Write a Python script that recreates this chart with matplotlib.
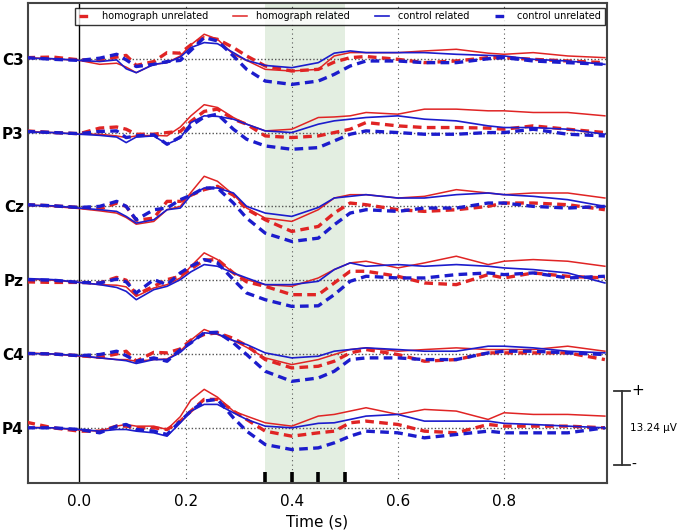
import matplotlib
matplotlib.use("Agg")
import matplotlib.pyplot as plt
import numpy as np

# ---------------- data (µV) ----------------
times = [-0.1, -0.05, 0.0, 0.038, 0.07, 0.088, 0.107, 0.14, 0.165, 0.19, 0.21,
         0.235, 0.26, 0.29, 0.315, 0.35, 0.4, 0.45, 0.48, 0.51, 0.54, 0.6, 0.65,
         0.71, 0.77, 0.8, 0.855, 0.92, 0.99]

channels = ["C3", "P3", "Cz", "Pz", "C4", "P4"]
series_names = ["homograph unrelated", "homograph related", "control related", "control unrelated"]

# homograph unrelated (red dashed)
hu_C3 = [0.2, 0.3, -0.2, -0.3, 0.3, 0.6, -1.2, -0.5, 1.1, 1.0, 2.5, 3.8, 3.5, 2.0, 0.5, -1.3, -2.2, -1.9, -0.6, 0.2, 0.4, -0.1, -0.7, -0.4, 0.2, 0.2, -0.1, -0.4, -0.7]
hu_P3 = [0.3, 0.0, -0.2, 0.8, 1.0, 0.6, -0.3, -0.3, 0.0, 0.2, 2.0, 3.8, 4.2, 2.4, 1.5, -0.6, -0.9, -0.6, 0.0, 0.6, 1.8, 1.2, 0.9, 0.9, 0.8, 0.6, 1.2, 0.6, 0.0]
hu_Cz = [0.3, 0.1, -0.2, -0.5, 0.6, 0.0, -2.5, -2.1, 0.9, 0.9, 2.0, 3.0, 3.6, 2.0, -0.5, -2.4, -4.5, -3.6, -1.2, 0.6, 0.3, -0.6, -0.9, -0.6, 0.0, 0.6, 0.6, 0.3, -0.6]
hu_Pz = [-0.3, -0.4, -0.4, -0.5, 0.5, 0.0, -2.6, -1.1, 0.1, 0.7, 2.0, 3.6, 3.7, 1.3, -0.3, -1.1, -2.6, -2.6, -0.5, 1.6, 1.6, 0.7, -0.5, -0.8, 1.0, 0.4, 1.3, 0.7, 0.4]
hu_C4 = [0.1, 0.0, -0.3, -0.6, 0.0, 0.5, -1.3, 0.3, 0.2, 0.9, 2.5, 3.5, 3.8, 2.8, 1.5, -1.0, -2.5, -2.2, -1.3, 0.2, 0.8, -0.1, -1.3, -1.0, 0.2, 0.2, 0.2, 0.2, -1.0]
hu_P4 = [1.0, 0.0, -0.6, -0.6, 0.3, 0.3, 0.0, 0.0, -0.3, 1.2, 3.0, 5.1, 5.1, 3.0, 1.5, -0.6, -1.5, -0.9, -0.6, 0.9, 1.2, 0.6, -0.6, -0.9, 0.6, 0.3, 0.3, 0.3, 0.0]

# homograph related (red solid)
hr_C3 = [0.2, 0.0, -0.3, -1.0, -0.8, -1.5, -2.5, -1.0, -0.7, 0.5, 2.5, 4.4, 3.5, 0.8, -0.3, -1.9, -2.2, -1.9, 0.5, 1.1, 1.1, 1.1, 1.4, 1.7, 1.0, 0.8, 1.1, 0.5, 0.2]
hr_P3 = [0.2, 0.0, -0.3, -0.3, -0.6, -0.9, -0.6, -0.5, -0.6, 1.0, 3.0, 5.0, 4.5, 2.7, 1.5, 0.3, 0.6, 2.7, 2.8, 3.0, 3.6, 3.3, 4.2, 4.2, 3.9, 3.9, 3.6, 3.6, 3.0]
hr_Cz = [0.3, 0.0, -0.4, -0.8, -1.2, -2.0, -3.2, -2.7, -0.6, 0.0, 2.5, 5.4, 4.5, 2.1, -0.3, -2.1, -2.7, -0.6, 1.5, 2.1, 2.1, 1.5, 1.8, 3.0, 2.4, 2.1, 2.4, 2.4, 1.5]
hr_Pz = [0.2, 0.0, -0.4, -0.8, -0.9, -1.2, -2.9, -1.4, -0.8, 0.4, 2.5, 4.9, 3.7, 1.3, 0.1, -0.8, -1.1, 0.4, 1.9, 3.1, 3.4, 2.2, 3.1, 4.3, 2.8, 3.4, 3.7, 3.4, 2.5]
hr_C4 = [0.2, 0.0, -0.4, -0.7, -1.0, -1.0, -1.3, -1.0, -0.9, 0.5, 2.5, 4.4, 3.5, 2.4, 1.2, -0.7, -1.9, -1.0, -0.1, 0.8, 1.1, 0.5, 0.8, 1.1, 0.8, 0.8, 0.8, 1.4, 0.5]
hr_P4 = [0.1, 0.0, -0.4, -0.6, 0.3, 0.6, 0.3, 0.3, -0.3, 2.0, 5.0, 6.9, 5.5, 3.0, 2.1, 0.9, 0.3, 2.1, 2.4, 3.0, 3.6, 2.4, 3.3, 3.0, 1.5, 2.7, 2.4, 2.4, 2.1]

# control related (blue solid)
cr_C3 = [0.1, 0.0, -0.3, -0.5, -0.2, -1.8, -2.5, -1.0, -0.7, 0.3, 2.0, 2.9, 2.7, 1.1, -0.3, -1.2, -1.6, -0.7, 1.0, 1.4, 1.1, 1.1, 1.1, 0.8, 0.6, 0.5, -0.1, -0.4, -1.0]
cr_P3 = [0.1, 0.0, -0.3, -0.5, -0.8, -1.8, -0.8, -0.6, -2.1, -1.0, 1.8, 3.0, 2.9, 2.4, 1.5, 0.3, 0.0, 1.5, 2.1, 2.4, 2.7, 3.0, 2.4, 2.1, 1.2, 0.9, 0.9, 0.6, -0.3]
cr_Cz = [0.2, 0.1, -0.3, -0.6, -0.9, -1.8, -3.0, -2.4, -0.6, -0.3, 2.0, 3.3, 3.3, 2.4, 0.0, -1.2, -1.8, -0.2, 1.5, 1.8, 2.1, 1.5, 1.5, 2.1, 2.4, 2.1, 1.8, 1.2, 0.0]
cr_Pz = [0.3, 0.1, -0.4, -0.8, -1.3, -2.0, -3.5, -1.7, -1.1, 0.1, 1.5, 2.8, 2.5, 1.3, 0.4, -0.8, -0.8, -0.2, 1.9, 3.1, 2.5, 2.8, 2.5, 2.8, 2.5, 2.2, 1.9, 1.3, -0.5]
cr_C4 = [0.1, 0.0, -0.3, -0.7, -1.0, -1.2, -1.7, -1.0, -1.0, 0.3, 2.0, 3.8, 3.6, 2.4, 1.7, 0.2, -0.7, -0.4, 0.5, 0.8, 1.1, 0.8, 0.5, 0.5, 1.4, 1.4, 1.1, 0.5, 0.2]
cr_P4 = [0.0, 0.0, -0.3, -0.6, -0.3, -0.3, -0.6, -0.9, -1.5, 0.9, 3.0, 4.2, 4.2, 2.7, 1.5, 0.3, 0.0, 0.8, 0.9, 1.5, 2.1, 2.4, 1.2, 1.2, 1.2, 0.8, 0.6, 0.3, 0.0]

# control unrelated (blue dashed)
cu_C3 = [0.2, -0.1, -0.3, 0.1, 0.8, -0.2, -1.4, -1.0, -0.5, -0.3, 1.5, 3.8, 3.2, 0.5, -1.9, -4.0, -4.6, -4.0, -2.8, -1.3, -0.4, -0.4, -0.7, -0.7, 0.0, 0.2, -0.4, -0.7, -1.0]
cu_P3 = [0.2, 0.0, -0.2, 0.2, 0.3, -0.9, -0.6, -0.4, -2.1, -0.8, 1.2, 2.8, 3.3, 0.6, -1.2, -2.4, -3.0, -2.7, -1.5, -0.3, 0.3, 0.0, -0.3, -0.3, 0.0, 0.0, 0.6, -0.3, -0.6]
cu_Cz = [0.3, 0.1, -0.2, 0.0, 0.9, 0.0, -2.4, -0.6, -0.3, 1.2, 2.0, 3.3, 3.3, 0.6, -2.1, -4.8, -6.3, -5.7, -3.3, -1.2, -0.6, -0.9, -0.3, -0.3, 0.6, 0.6, 0.0, -0.3, 0.0]
cu_Pz = [0.1, 0.0, -0.4, -0.5, 0.2, -0.3, -2.3, 0.1, -0.8, 1.3, 2.5, 3.7, 3.1, 0.1, -2.3, -3.5, -4.7, -4.6, -2.6, -0.2, 0.7, 0.4, 0.4, 1.0, 1.3, 1.0, 1.3, 0.4, 0.7]
cu_C4 = [0.1, 0.0, -0.3, -0.1, 0.5, -0.3, -1.3, -0.7, -1.3, 0.8, 2.0, 3.8, 3.9, 2.0, -0.1, -3.1, -4.9, -4.3, -3.1, -1.0, -0.7, -0.7, -1.0, -1.0, 0.2, 0.5, 0.5, 0.2, -0.1]
cu_P4 = [0.0, 0.0, -0.3, -0.9, 0.3, 0.6, -0.3, -0.6, -1.2, 1.2, 3.0, 4.8, 5.1, 1.8, -0.6, -3.0, -3.9, -3.6, -2.7, -1.5, -0.6, -0.9, -1.8, -1.2, -0.6, -0.9, -0.9, -0.9, 0.0]

channel_spacing = 13.24   # µV between stacked channels
scale_label = "13.24 µV"
window = (0.35, 0.5)
window_ticks = [0.35, 0.40, 0.45, 0.50]
xtick_vals = [0.0, 0.2, 0.4, 0.6, 0.8]

series_data = {
    "homograph unrelated": [hu_C3, hu_P3, hu_Cz, hu_Pz, hu_C4, hu_P4],
    "homograph related": [hr_C3, hr_P3, hr_Cz, hr_Pz, hr_C4, hr_P4],
    "control related": [cr_C3, cr_P3, cr_Cz, cr_Pz, cr_C4, cr_P4],
    "control unrelated": [cu_C3, cu_P3, cu_Cz, cu_Pz, cu_C4, cu_P4],
}

RED = "#e02424"
BLUE = "#1c1ccc"
styles = {
    "homograph unrelated": dict(color=RED, lw=2.4, dashes=(2.6, 1.6)),
    "homograph related": dict(color=RED, lw=1.1),
    "control related": dict(color=BLUE, lw=1.2),
    "control unrelated": dict(color=BLUE, lw=2.4, dashes=(2.6, 1.6)),
}

# ---------------- figure ----------------
fig = plt.figure(figsize=(6.8, 5.31), dpi=100)
ax = fig.add_axes([28 / 680, 1 - 483 / 531, (607 - 28) / 680, (483 - 3) / 531])

t = np.array(times)
offsets = [-i * channel_spacing for i in range(len(channels))]

ax.axvspan(window[0], window[1], color="#e3eee1", zorder=0, lw=0)
for xv in [0.2, 0.4, 0.6, 0.8]:
    ax.axvline(xv, color="#555555", lw=0.8, ls=(0, (1, 3)), zorder=1)
ax.axvline(0.0, color="black", lw=1.0, zorder=1)
for off in offsets:
    ax.axhline(off, color="#555555", lw=1.0, ls=(0, (1, 1.5)), zorder=1)

for name in series_names:
    st = styles[name]
    for i, vals in enumerate(series_data[name]):
        kw = dict(color=st["color"], lw=st["lw"], zorder=3)
        line, = ax.plot(t, np.array(vals) + offsets[i], **kw)
        if "dashes" in st:
            line.set_dashes(st["dashes"])
        if i == 0:
            line.set_label(name)

ax.set_xlim(-0.097, 0.994)
ax.set_ylim(offsets[-1] - 9.9, 10.0)

ax.set_yticks(offsets)
ax.set_yticklabels(channels, fontsize=11, fontweight="bold")
ax.tick_params(axis="y", length=0, pad=3)

ax.xaxis.remove_overlapping_locs = False
ax.set_xticks(xtick_vals)
ax.set_xticklabels([f"{v:.1f}" for v in xtick_vals], fontsize=11)
ax.set_xticks(window_ticks, minor=True)
ax.tick_params(axis="x", which="major", length=0, pad=8)
ax.tick_params(axis="x", which="minor", length=8, width=2.6, direction="in", color="black")
ax.set_xlabel("Time (s)", fontsize=11, labelpad=4)

for sp in ax.spines.values():
    sp.set_color("#444444")
    sp.set_linewidth(1.5)

leg = ax.legend(loc="upper right", bbox_to_anchor=(0.996, 0.990), ncol=4,
                fontsize=7.0, frameon=True, fancybox=False, borderaxespad=0,
                handlelength=1.4, columnspacing=2.6, handletextpad=0.95,
                borderpad=0.35)
leg.get_frame().set_edgecolor("black")
leg.get_frame().set_linewidth(1.0)

# scale bar (outside axes, right of P4)
bar_x = 1.022
cap = 0.015
y_top = offsets[-1] + channel_spacing / 2
y_bot = offsets[-1] - channel_spacing / 2
ax.plot([bar_x, bar_x], [y_bot, y_top], color="#333333", lw=1.3, clip_on=False)
ax.plot([bar_x - cap, bar_x + cap], [y_top, y_top], color="#333333", lw=1.3, clip_on=False)
ax.plot([bar_x - cap, bar_x + cap], [y_bot, y_bot], color="#333333", lw=1.3, clip_on=False)
ax.text(bar_x + 0.018, y_top, "+", fontsize=11, va="center", ha="left")
ax.text(bar_x + 0.018, y_bot, "-", fontsize=10, va="center", ha="left")
ax.text(bar_x + 0.016, offsets[-1], scale_label, fontsize=7.5, va="center", ha="left")

fig.savefig("out.png", dpi=100)
